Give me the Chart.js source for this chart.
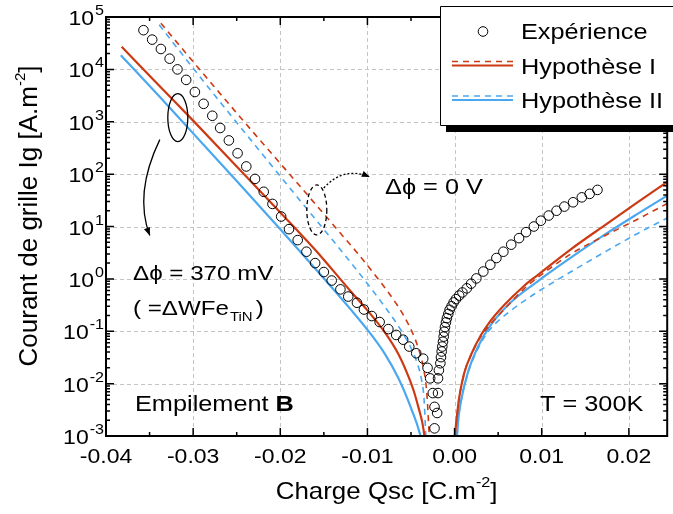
<!DOCTYPE html>
<html>
<head>
<meta charset="utf-8">
<script src="https://cdn.jsdelivr.net/npm/chart.js@4.4.1/dist/chart.umd.min.js"></script>
<style>
  html, body { margin: 0; padding: 0; background: #fff; overflow: hidden; }
  #wrap { width: 673px; height: 514px; }
</style>
</head>
<body>
<div id="wrap"><canvas id="chart" width="673" height="514"></canvas></div>
<script>
// axis ranges and ticks
const Q_MIN = -0.04, Q_MAX = 0.0244;
const IG_MIN = 1e-3, IG_MAX = 1e5;
const X_TICKS = [-0.04, -0.03, -0.02, -0.01, 0.00, 0.01, 0.02];
const Y_EXPONENTS = [-3, -2, -1, 0, 1, 2, 3, 4, 5];

// Expérience (circles)
const expQ = [-0.0357, -0.0347, -0.0337, -0.0327, -0.0318, -0.0308, -0.0298, -0.0288, -0.0278, -0.0269,
  -0.0259, -0.0249, -0.0239, -0.0229, -0.0219, -0.0209, -0.0199, -0.0190, -0.0180, -0.0170,
  -0.0160, -0.0150, -0.0141, -0.0131, -0.0122, -0.0112, -0.0104, -0.0095, -0.0086, -0.0076,
  -0.0067, -0.0059, -0.0052, -0.0044, -0.0036, -0.0031, -0.0028, -0.0025, -0.0023, -0.0020,
  -0.0023, -0.0019, -0.0019, -0.0018, -0.00163, -0.00156, -0.00148, -0.00141, -0.00133, -0.00125,
  -0.00118, -0.0011, -0.00099, -0.00088, -0.00072, -0.00057, -0.00034, -0.00011, 0.00015, 0.00053,
  0.0009, 0.0014, 0.0019, 0.0025, 0.0033, 0.0041, 0.0048, 0.0056, 0.0065, 0.0074,
  0.0082, 0.0091, 0.0099, 0.0108, 0.0117, 0.0126, 0.0136, 0.0146, 0.0155, 0.0164];
const expIg = [5.6e4, 3.7e4, 2.45e4, 1.6e4, 1.0e4, 6.3e3, 3.7e3, 2.2e3, 1.3e3, 7.6e2,
  4.4e2, 2.5e2, 1.4e2, 81, 46, 27, 15.5, 8.9, 5.5, 3.3,
  2.0, 1.35, 0.93, 0.63, 0.46, 0.35, 0.26, 0.195, 0.15, 0.11,
  0.085, 0.069, 0.051, 0.038, 0.030, 0.020, 0.0126, 0.0066, 0.0036, 0.00275,
  0.0014, 0.0066, 0.0126, 0.018, 0.0245, 0.032, 0.041, 0.051, 0.063, 0.079,
  0.098, 0.12, 0.148, 0.178, 0.214, 0.257, 0.30, 0.355, 0.41, 0.48,
  0.55, 0.66, 0.81, 1.02, 1.38, 1.86, 2.5, 3.3, 4.5, 6.0,
  7.8, 10, 12.9, 16.2, 20, 24, 29, 36, 42, 50];

// Hypothèse I, Δφ = 370 mV (solid red)
const h1SolidLeftQ = [-0.0382, -0.0340, -0.0300, -0.0250, -0.0200, -0.0160, -0.0120, -0.0100, -0.0080, -0.0065, -0.0055, -0.0047, -0.0041, -0.0037, -0.00345];
const h1SolidLeftIg = [2.7e4, 5.1e3, 1.05e3, 1.4e2, 18.6, 3.6, 0.60, 0.25, 0.095, 0.038, 0.0166, 7.4e-3, 3.3e-3, 1.8e-3, 1e-3];
const h1SolidRightQ = [0.00003, 0.00025, 0.00053, 0.0011, 0.0019, 0.0030, 0.0040, 0.0057, 0.0080, 0.0095, 0.0133, 0.0171, 0.0209, 0.0244];
const h1SolidRightIg = [1e-3, 2.24e-3, 5.4e-3, 0.0158, 0.036, 0.083, 0.148, 0.316, 0.74, 1.17, 3.63, 10.2, 28.2, 70.8];

// Hypothèse I, Δφ = 0 V (dashed red)
const h1DashLeftQ = [-0.0337, -0.0300, -0.0270, -0.0230, -0.0180, -0.0135, -0.0110, -0.0085, -0.0065, -0.0052, -0.0042, -0.0036, -0.0032, -0.0029];
const h1DashLeftIg = [7.6e4, 1.4e4, 3.6e3, 6.0e2, 66, 8.9, 2.9, 0.87, 0.30, 0.126, 0.050, 0.021, 7.1e-3, 1e-3];
const h1DashRightQ = [0.00003, 0.00025, 0.00053, 0.0011, 0.0019, 0.0030, 0.0040, 0.0057, 0.0080, 0.0095, 0.0133, 0.0171, 0.0209, 0.0244];
const h1DashRightIg = [1e-3, 2.24e-3, 5.4e-3, 0.0155, 0.035, 0.078, 0.129, 0.263, 0.65, 1.05, 2.95, 6.5, 13.5, 27.5];

// Hypothèse II, Δφ = 370 mV (solid blue)
const h2SolidLeftQ = [-0.0383, -0.0340, -0.0300, -0.0250, -0.0200, -0.0160, -0.0120, -0.0100, -0.0080, -0.0065, -0.0055, -0.0048, -0.0043, -0.0039];
const h2SolidLeftIg = [1.86e4, 3.2e3, 6.0e2, 74, 8.9, 1.58, 0.27, 0.107, 0.037, 0.0132, 5.6e-3, 2.8e-3, 1.66e-3, 1e-3];
const h2SolidRightQ = [0.00028, 0.00045, 0.00072, 0.0015, 0.0027, 0.0042, 0.0065, 0.0095, 0.0133, 0.0171, 0.0209, 0.0244];
const h2SolidRightIg = [1e-3, 2.24e-3, 4.5e-3, 0.0158, 0.051, 0.135, 0.363, 0.89, 2.51, 6.76, 17.0, 38.9];

// Hypothèse II, Δφ = 0 V (dashed blue)
const h2DashLeftQ = [-0.0339, -0.0300, -0.0260, -0.0220, -0.0180, -0.0140, -0.0110, -0.0085, -0.0065, -0.0052, -0.0043, -0.0038, -0.0035, -0.0033];
const h2DashLeftIg = [7.1e4, 1.05e4, 1.55e3, 2.34e2, 35.5, 5.5, 1.32, 0.38, 0.129, 0.056, 0.025, 0.012, 5.0e-3, 1e-3];
const h2DashRightQ = [0.00028, 0.00045, 0.00072, 0.0015, 0.0027, 0.0040, 0.0065, 0.0080, 0.0095, 0.0133, 0.0171, 0.0209, 0.0244];
const h2DashRightIg = [1e-3, 2.24e-3, 4.4e-3, 0.0151, 0.047, 0.105, 0.251, 0.38, 0.56, 1.35, 3.16, 7.2, 14.5];

const RED = '#cc3a14';
const BLUE = '#4aa8f0';
const FONT = '"Liberation Sans", Arial, Helvetica, sans-serif';

function pts(qs, igs) {
    return qs.map((q, i) => ({ x: q, y: igs[i] }));
}

function lineSet(label, qs, igs, color, dashed) {
    return {
        label: label,
        data: pts(qs, igs),
        borderColor: color,
        borderWidth: dashed ? 1.6 : 2.2,
        borderDash: dashed ? [6, 5] : [],
        pointRadius: 0,
        fill: false,
        cubicInterpolationMode: 'monotone'
    };
}

// draw text with a slight horizontal stretch, like the original figure
function text(ctx, s, x, y, size, align, bold, sx) {
    sx = sx || 1.15;
    ctx.save();
    ctx.font = (bold ? 'bold ' : '') + size + 'px ' + FONT;
    const w = ctx.measureText(s).width * sx;
    let left = x;
    if (align === 'center') left = x - w / 2;
    if (align === 'right') left = x - w;
    ctx.translate(left, y);
    ctx.scale(sx, 1);
    ctx.textAlign = 'left';
    ctx.textBaseline = 'alphabetic';
    ctx.fillStyle = '#000';
    ctx.fillText(s, 0, 0);
    ctx.restore();
    return w;
}

function measure(ctx, s, size, sx) {
    ctx.save();
    ctx.font = size + 'px ' + FONT;
    const w = ctx.measureText(s).width * (sx || 1.15);
    ctx.restore();
    return w;
}

function arrowHead(ctx, x, y, angle, len, half) {
    ctx.save();
    ctx.setLineDash([]);
    ctx.translate(x, y);
    ctx.rotate(angle);
    ctx.beginPath();
    ctx.moveTo(0, 0);
    ctx.lineTo(-len, -half);
    ctx.lineTo(-len, half);
    ctx.closePath();
    ctx.fill();
    ctx.restore();
}

const figurePlugin = {
    id: 'figure',
    beforeDatasetsDraw(chart) {
        const { ctx, chartArea: a, scales: { x, y } } = chart;
        ctx.save();
        ctx.strokeStyle = '#c4c4c4';
        ctx.lineWidth = 1;
        ctx.setLineDash([4, 3]);
        ctx.beginPath();
        X_TICKS.forEach(v => {
            const px = Math.round(x.getPixelForValue(v)) + 0.5;
            if (px <= a.left + 1) return;
            ctx.moveTo(px, a.top);
            ctx.lineTo(px, a.bottom);
        });
        Y_EXPONENTS.forEach(e => {
            const py = Math.round(y.getPixelForValue(Math.pow(10, e))) + 0.5;
            if (py <= a.top + 1 || py >= a.bottom - 1) return;
            ctx.moveTo(a.left, py);
            ctx.lineTo(a.right, py);
        });
        ctx.stroke();
        ctx.restore();
    },
    afterDraw(chart) {
        const { ctx, chartArea: a, scales: { x, y } } = chart;
        ctx.save();

        // frame
        ctx.strokeStyle = '#000';
        ctx.lineWidth = 2;
        ctx.strokeRect(a.left, a.top, a.right - a.left, a.bottom - a.top);

        // ticks (inward, on all four sides)
        ctx.lineWidth = 1.5;
        ctx.beginPath();
        for (let v = -0.04; v <= Q_MAX + 1e-9; v += 0.005) {
            const px = x.getPixelForValue(v);
            const major = Math.abs(Math.round(v * 100) - v * 100) < 1e-6;
            const len = major ? 8 : 4;
            ctx.moveTo(px, a.bottom); ctx.lineTo(px, a.bottom - len);
            ctx.moveTo(px, a.top); ctx.lineTo(px, a.top + len);
        }
        Y_EXPONENTS.forEach(e => {
            for (let m = 1; m <= 9; m++) {
                const v = m * Math.pow(10, e);
                if (v > IG_MAX * 1.0001) break;
                const py = y.getPixelForValue(v);
                const len = m === 1 ? 8 : 4;
                ctx.moveTo(a.left, py); ctx.lineTo(a.left + len, py);
                ctx.moveTo(a.right, py); ctx.lineTo(a.right - len, py);
            }
        });
        ctx.stroke();

        // x tick labels
        X_TICKS.forEach(v => {
            text(ctx, v.toFixed(2), x.getPixelForValue(v), a.bottom + 27, 20, 'center');
        });

        // y tick labels: 10 with exponent
        Y_EXPONENTS.forEach(e => {
            const py = y.getPixelForValue(Math.pow(10, e));
            const ew = measure(ctx, String(e), 14);
            text(ctx, String(e), a.left - 2, py - 2, 14, 'right');
            text(ctx, '10', a.left - 3 - ew, py + 8, 20, 'right');
        });

        // x axis title
        const cx = (a.left + a.right) / 2;
        const t1 = 'Charge Qsc [C.m', t2 = '-2', t3 = ']';
        const w1 = measure(ctx, t1, 24, 1.08), w2 = measure(ctx, t2, 15, 1.08), w3 = measure(ctx, t3, 24, 1.08);
        let lx = cx - (w1 + w2 + w3) / 2;
        text(ctx, t1, lx, 499, 24, 'left', false, 1.08);
        text(ctx, t2, lx + w1, 487, 15, 'left', false, 1.08);
        text(ctx, t3, lx + w1 + w2, 499, 24, 'left', false, 1.08);

        // y axis title (rotated)
        ctx.save();
        ctx.translate(37, 216);
        ctx.rotate(-Math.PI / 2);
        const y1 = 'Courant de grille Ig [A.m', y2 = '-2', y3 = ']';
        const v1 = measure(ctx, y1, 26, 1.0), v2 = measure(ctx, y2, 15, 1.0), v3 = measure(ctx, y3, 26, 1.0);
        let ly = -(v1 + v2 + v3) / 2;
        text(ctx, y1, ly, 0, 26, 'left', false, 1.0);
        text(ctx, y2, ly + v1, -12, 15, 'left', false, 1.0);
        text(ctx, y3, ly + v1 + v2, 0, 26, 'left', false, 1.0);
        ctx.restore();

        // annotations: solid ellipse + arrow (Δφ = 370 mV)
        ctx.strokeStyle = '#000';
        ctx.fillStyle = '#000';
        ctx.lineWidth = 1.3;
        const e1x = x.getPixelForValue(-0.03176), e1y = y.getPixelForValue(1.2e3);
        ctx.beginPath();
        ctx.ellipse(e1x, e1y, 10, 24, 0, 0, Math.PI * 2);
        ctx.stroke();
        const s0 = [e1x - 18, e1y + 22], sc = [e1x - 44, e1y + 76], s1 = [e1x - 28, e1y + 118];
        ctx.beginPath();
        ctx.moveTo(s0[0], s0[1]);
        ctx.quadraticCurveTo(sc[0], sc[1], s1[0], s1[1]);
        ctx.stroke();
        arrowHead(ctx, s1[0], s1[1], Math.atan2(s1[1] - sc[1], s1[0] - sc[0]), 8, 3.2);

        // dashed ellipse + dotted arrow (Δφ = 0 V)
        const e2x = x.getPixelForValue(-0.01581), e2y = y.getPixelForValue(20.7);
        ctx.setLineDash([4, 3]);
        ctx.beginPath();
        ctx.ellipse(e2x, e2y, 10, 25, 0, 0, Math.PI * 2);
        ctx.stroke();
        ctx.setLineDash([2, 2]);
        const d0 = [e2x + 7, e2y - 22], dc = [e2x + 27, e2y - 44], d1 = [e2x + 53, e2y - 33];
        ctx.beginPath();
        ctx.moveTo(d0[0], d0[1]);
        ctx.quadraticCurveTo(dc[0], dc[1], d1[0], d1[1]);
        ctx.stroke();
        ctx.setLineDash([]);
        arrowHead(ctx, d1[0], d1[1], Math.atan2(d1[1] - dc[1], d1[0] - dc[0]), 8, 3.2);

        // text annotations
        text(ctx, '\u0394\u03d5 = 0 V', 385, 194, 22, 'left');
        text(ctx, '\u0394\u03d5 = 370 mV', 133, 280, 21, 'left');
        let px = 133;
        px += text(ctx, '( =\u0394WFe', px, 315, 21, 'left');
        px += text(ctx, 'TiN', px + 1, 321, 13, 'left') + 4;
        text(ctx, ')', px, 315, 21, 'left');
        const ew2 = text(ctx, 'Empilement ', 135, 411, 22, 'left');
        text(ctx, 'B', 135 + ew2, 411, 22, 'left', true);
        text(ctx, 'T = 300K', 540, 411, 22, 'left');

        ctx.restore();
    }
};

// legend box, drawn last so that it sits over the frame
const legendPlugin = {
    id: 'legendBox',
    afterDraw(chart) {
        const ctx = chart.ctx;
        ctx.save();
        ctx.setLineDash([]);
        ctx.fillStyle = '#000';
        ctx.fillRect(446, 125, 240, 7);
        ctx.fillStyle = '#fff';
        ctx.fillRect(440, 6, 240, 119);
        ctx.lineWidth = 1;
        ctx.strokeStyle = '#000';
        ctx.beginPath();
        ctx.moveTo(690, 6.5); ctx.lineTo(440.5, 6.5); ctx.lineTo(440.5, 125.5); ctx.lineTo(690, 125.5);
        ctx.stroke();

        ctx.beginPath();
        ctx.arc(483, 31.5, 4.8, 0, Math.PI * 2);
        ctx.stroke();
        text(ctx, 'Exp\u00e9rience', 521, 39, 22, 'left');

        [[RED, 65.5, 'Hypoth\u00e8se I', 74], [BLUE, 100, 'Hypoth\u00e8se II', 108]].forEach(r => {
            ctx.strokeStyle = r[0];
            ctx.lineWidth = 2.2;
            ctx.setLineDash([]);
            ctx.beginPath();
            ctx.moveTo(452, r[1]); ctx.lineTo(513, r[1]);
            ctx.stroke();
            ctx.lineWidth = 1.6;
            ctx.setLineDash([6, 5]);
            ctx.beginPath();
            ctx.moveTo(452, r[1] - 4); ctx.lineTo(513, r[1] - 4);
            ctx.stroke();
            ctx.setLineDash([]);
            text(ctx, r[2], 521, r[3], 22, 'left');
        });
        ctx.restore();
    }
};

new Chart(document.getElementById('chart'), {
    type: 'line',
    data: {
        datasets: [
            {
                label: 'Exp\u00e9rience',
                data: pts(expQ, expIg),
                showLine: false,
                pointRadius: 4.8,
                pointBorderWidth: 1,
                pointBorderColor: '#000',
                pointBackgroundColor: 'rgba(255,255,255,0)'
            },
            lineSet('Hypoth\u00e8se I', h1SolidLeftQ, h1SolidLeftIg, RED, false),
            lineSet('Hypoth\u00e8se I', h1SolidRightQ, h1SolidRightIg, RED, false),
            lineSet('Hypoth\u00e8se I (0 V)', h1DashLeftQ, h1DashLeftIg, RED, true),
            lineSet('Hypoth\u00e8se I (0 V)', h1DashRightQ, h1DashRightIg, RED, true),
            lineSet('Hypoth\u00e8se II', h2SolidLeftQ, h2SolidLeftIg, BLUE, false),
            lineSet('Hypoth\u00e8se II', h2SolidRightQ, h2SolidRightIg, BLUE, false),
            lineSet('Hypoth\u00e8se II (0 V)', h2DashLeftQ, h2DashLeftIg, BLUE, true),
            lineSet('Hypoth\u00e8se II (0 V)', h2DashRightQ, h2DashRightIg, BLUE, true)
        ]
    },
    options: {
        responsive: false,
        animation: false,
        layout: { padding: { left: 106, right: 2, top: 17, bottom: 78 } },
        plugins: {
            legend: { display: false },
            tooltip: { enabled: false }
        },
        scales: {
            x: { type: 'linear', min: Q_MIN, max: Q_MAX, display: false },
            y: { type: 'logarithmic', min: IG_MIN, max: IG_MAX, display: false }
        }
    },
    plugins: [figurePlugin, legendPlugin]
});
</script>
</body>
</html>
